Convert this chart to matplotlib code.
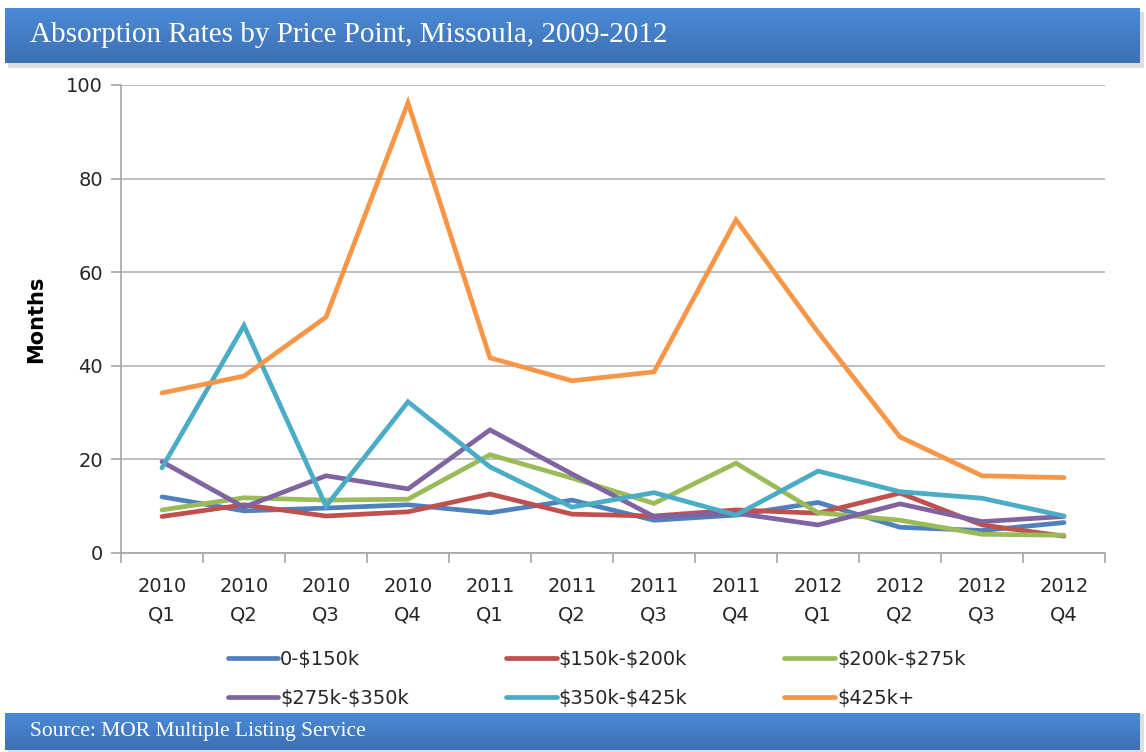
import matplotlib.pyplot as plt
import numpy as np
from matplotlib.colors import LinearSegmentedColormap

plt.rcParams['text.parse_math'] = False

# quarters and absorption rates (months)
quarters = ['2010\nQ1', '2010\nQ2', '2010\nQ3', '2010\nQ4',
            '2011\nQ1', '2011\nQ2', '2011\nQ3', '2011\nQ4',
            '2012\nQ1', '2012\nQ2', '2012\nQ3', '2012\nQ4']

band_0_150 = [12.0, 9.0, 9.6, 10.3, 8.6, 11.3, 7.0, 8.1, 10.8, 5.5, 4.8, 6.5]
band_150_200 = [7.8, 10.3, 7.9, 8.8, 12.6, 8.3, 7.9, 9.2, 8.5, 12.8, 6.0, 3.6]
band_200_275 = [9.2, 11.8, 11.3, 11.5, 21.0, 16.0, 10.6, 19.2, 8.6, 7.0, 4.0, 3.8]
band_275_350 = [19.5, 9.8, 16.5, 13.7, 26.3, 16.9, 7.8, 8.5, 6.0, 10.5, 6.7, 7.8]
band_350_425 = [18.2, 48.6, 10.0, 32.3, 18.4, 9.8, 12.9, 8.1, 17.5, 13.1, 11.7, 7.9]
band_425_up = [34.2, 37.8, 50.4, 96.2, 41.7, 36.8, 38.7, 71.2, 47.2, 24.8, 16.5, 16.1]

labels = ['0-$150k', '$150k-$200k', '$200k-$275k',
          '$275k-$350k', '$350k-$425k', '$425k+']
series = [band_0_150, band_150_200, band_200_275,
          band_275_350, band_350_425, band_425_up]
colors = ['#4F81BD', '#C0504D', '#9BBB59', '#8064A2', '#4BACC6', '#F79646']

fig = plt.figure(figsize=(11.46, 7.52), dpi=100)

# blue header / footer bands with a vertical gradient
grad = np.linspace(0, 1, 64).reshape(-1, 1)
band_cmap = LinearSegmentedColormap.from_list('band', ['#4b8bd6', '#3d6fb3'])

# soft shadows under the bands
for (l, b, w, h) in [(8, 752 - 68, 1136, 56), (8, 0, 1136, 38)]:
    sh = fig.add_axes([l / 1146, b / 752, w / 1146, h / 752])
    sh.set_facecolor('#c8c8c8')
    sh.set_xticks([]); sh.set_yticks([])
    for s in sh.spines.values():
        s.set_visible(False)
    sh.patch.set_alpha(0.6)

head = fig.add_axes([5 / 1146, (752 - 63) / 752, 1135 / 1146, 55 / 752])
head.imshow(grad, aspect='auto', cmap=band_cmap, extent=[0, 1, 0, 1])
head.axis('off')
head.text(0.022, 0.5, 'Absorption Rates by Price Point, Missoula, 2009-2012',
          color='white', fontsize=21, family='Liberation Serif',
          va='center', ha='left', transform=head.transAxes)

foot = fig.add_axes([5 / 1146, 2 / 752, 1135 / 1146, 37 / 752])
foot.imshow(grad, aspect='auto', cmap=band_cmap, extent=[0, 1, 0, 1])
foot.axis('off')
foot.text(0.022, 0.5, 'Source: MOR Multiple Listing Service',
          color='white', fontsize=15.5, family='Liberation Serif',
          va='center', ha='left', transform=foot.transAxes)

ax = fig.add_axes([121 / 1146, (752 - 553) / 752, (1105 - 121) / 1146, (553 - 85) / 752])
x = np.arange(len(quarters))
lines = []
for vals, lab, c in zip(series, labels, colors):
    ln, = ax.plot(x, vals, color=c, lw=3.4, label=lab, solid_capstyle='round',
                  solid_joinstyle='miter')
    lines.append(ln)

ax.set_xlim(-0.5, len(quarters) - 0.5)
ax.set_ylim(0, 100)
ax.set_yticks(range(0, 101, 20))
ax.set_xticks(x)
ax.set_xticklabels(quarters, fontsize=14, color='#262626', linespacing=1.65)
ax.set_xticks(np.arange(-0.5, len(quarters), 1), minor=True)
ax.tick_params(axis='x', which='major', length=0, pad=17)
ax.tick_params(axis='x', which='minor', length=7, color='#a6a6a6', width=1.2)
ax.tick_params(axis='y', length=7, color='#a6a6a6', width=1.2, labelsize=14,
               labelcolor='#262626', pad=6)
ax.grid(axis='y', color='#b3b3b3', lw=1.2)
ax.set_axisbelow(True)
for side in ['top', 'right']:
    ax.spines[side].set_visible(False)
for side in ['left', 'bottom']:
    ax.spines[side].set_color('#a6a6a6')
    ax.spines[side].set_linewidth(1.2)
ax.set_ylabel('Months', fontsize=15, fontweight='bold', labelpad=14)

# legend fills row by row like the original
order = [0, 3, 1, 4, 2, 5]
fig.legend([lines[i] for i in order], [labels[i] for i in order],
           loc='upper left', bbox_to_anchor=(210 / 1146, (752 - 632) / 752),
           ncol=3, frameon=False, fontsize=14, handlelength=2.6,
           handletextpad=0.1, columnspacing=5.0, labelspacing=1.05,
           labelcolor='#262626')

fig.savefig('out.png', dpi=100)
